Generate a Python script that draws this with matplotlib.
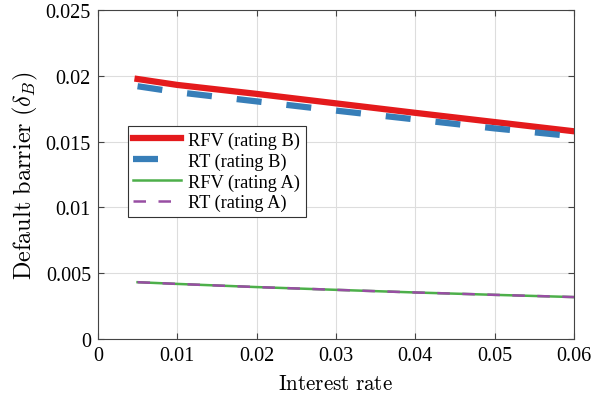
import matplotlib as mpl
mpl.use('Agg')
import matplotlib.pyplot as plt

plt.rcParams['font.family'] = ['Liberation Serif', 'DejaVu Serif']
plt.rcParams['mathtext.fontset'] = 'cm'

# interest rate grid
rates = [0.005, 0.01, 0.02, 0.03, 0.04, 0.05, 0.06]
rfv_b = [0.01975, 0.0193, 0.01862, 0.0179, 0.01718, 0.01648, 0.01578]
rt_b = [0.0192, 0.01875, 0.01805, 0.01735, 0.01668, 0.01600, 0.01540]
rfv_a = [0.00432, 0.00419, 0.00395, 0.00374, 0.00354, 0.00336, 0.00319]
rt_a = [0.00432, 0.00419, 0.00395, 0.00374, 0.00354, 0.00336, 0.00319]

fig = plt.figure(figsize=(6.08, 4.02), dpi=100)
ax = fig.add_axes([0.161, 0.154, 0.783, 0.819])

ax.plot(rates, rfv_b, color='#e41a1c', lw=4.5, label='RFV (rating B)')
ax.plot(rates, rt_b, color='#377eb8', lw=4.5, dashes=(4, 4), label='RT (rating B)')
ax.plot(rates, rfv_a, color='#4daf4a', lw=1.8, label='RFV (rating A)')
ax.plot(rates, rt_a, color='#984ea3', lw=1.8, dashes=(5, 5), label='RT (rating A)')

ax.set_xlim(0, 0.06)
ax.set_ylim(0, 0.025)
ax.set_xticks([0, 0.01, 0.02, 0.03, 0.04, 0.05, 0.06])
ax.set_xticklabels(['0', '0.01', '0.02', '0.03', '0.04', '0.05', '0.06'])
ax.set_yticks([0, 0.005, 0.01, 0.015, 0.02, 0.025])
ax.set_yticklabels(['0', '0.005', '0.01', '0.015', '0.02', '0.025'])
ax.grid(True, color='#dddddd', lw=0.8)
ax.set_axisbelow(True)
ax.tick_params(direction='in', top=True, right=True, labelsize=14.5, length=4,
               color='#444444', pad=5)
for s in ax.spines.values():
    s.set_color('#444444')
    s.set_linewidth(0.8)

ax.set_xlabel(r'$\mathrm{Interest\ rate}$', fontsize=15.2, labelpad=7)
ax.set_ylabel(r'$\mathrm{Default\ barrier\ }(\delta_B)$', fontsize=17.5, labelpad=4)

leg = ax.legend(loc='upper left', bbox_to_anchor=(0.063, 0.648), fontsize=13.2,
                fancybox=False, edgecolor='#333333', framealpha=1, borderaxespad=0,
                handlelength=2.6, borderpad=0.3, labelspacing=0.2, handletextpad=0.4)
leg.get_frame().set_linewidth(0.8)

fig.savefig('out.png', dpi=100)
